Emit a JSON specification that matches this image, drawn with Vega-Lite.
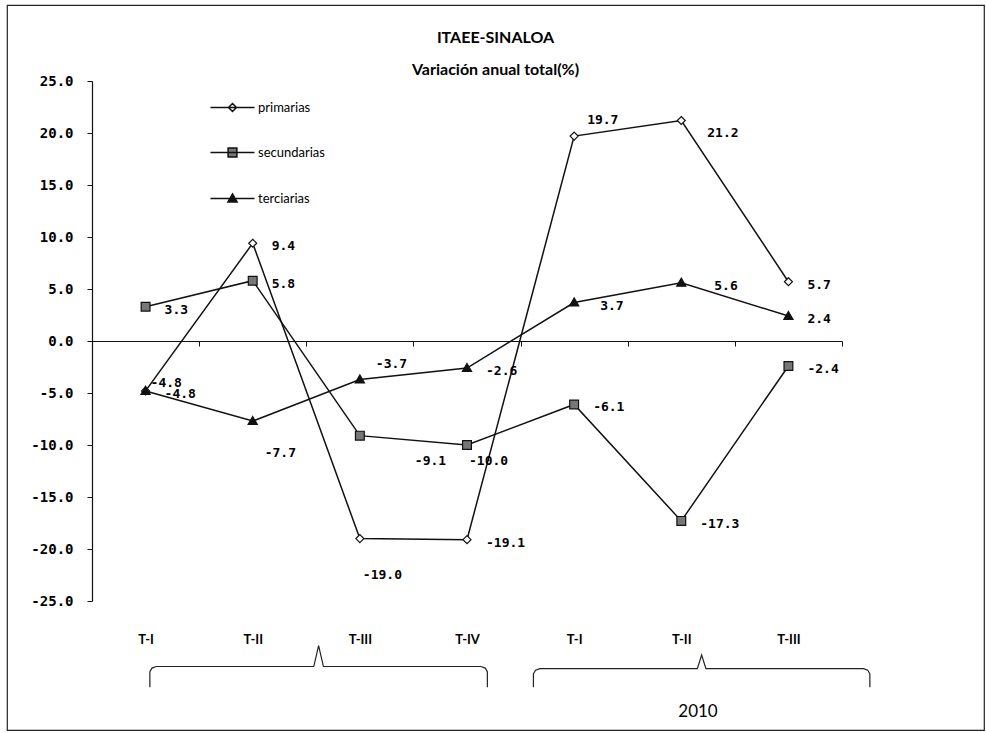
{
  "$schema": "https://vega.github.io/schema/vega-lite/v6.json",
  "width": 977,
  "height": 725,
  "autosize": {"type": "none"},
  "padding": {"left": 7, "top": 5, "right": 2, "bottom": 3},
  "background": "white",
  "config": {"view": {"stroke": "#222", "strokeWidth": 1.2}, "font": "Lato"},
  "title": {
    "text": "ITAEE-SINALOA",
    "subtitle": "Variación anual total(%)",
    "anchor": "middle",
    "frame": "group",
    "offset": -73,
    "font": "Lato",
    "fontSize": 16,
    "fontWeight": "bold",
    "color": "black",
    "subtitleFont": "Lato",
    "subtitleFontSize": 16,
    "subtitleFontWeight": "bold",
    "subtitleColor": "black",
    "subtitlePadding": 16
  },
  "datasets": {
    "series": [
      {"q": "2009 T-I", "s": "primarias", "v": -4.8},
      {"q": "2009 T-II", "s": "primarias", "v": 9.4},
      {"q": "2009 T-III", "s": "primarias", "v": -19.0},
      {"q": "2009 T-IV", "s": "primarias", "v": -19.1},
      {"q": "2010 T-I", "s": "primarias", "v": 19.7},
      {"q": "2010 T-II", "s": "primarias", "v": 21.2},
      {"q": "2010 T-III", "s": "primarias", "v": 5.7},
      {"q": "2009 T-I", "s": "secundarias", "v": 3.3},
      {"q": "2009 T-II", "s": "secundarias", "v": 5.8},
      {"q": "2009 T-III", "s": "secundarias", "v": -9.1},
      {"q": "2009 T-IV", "s": "secundarias", "v": -10.0},
      {"q": "2010 T-I", "s": "secundarias", "v": -6.1},
      {"q": "2010 T-II", "s": "secundarias", "v": -17.3},
      {"q": "2010 T-III", "s": "secundarias", "v": -2.4},
      {"q": "2009 T-I", "s": "terciarias", "v": -4.8},
      {"q": "2009 T-II", "s": "terciarias", "v": -7.7},
      {"q": "2009 T-III", "s": "terciarias", "v": -3.7},
      {"q": "2009 T-IV", "s": "terciarias", "v": -2.6},
      {"q": "2010 T-I", "s": "terciarias", "v": 3.7},
      {"q": "2010 T-II", "s": "terciarias", "v": 5.6},
      {"q": "2010 T-III", "s": "terciarias", "v": 2.4}
    ],
    "brackets": [
      {"b": 1, "k": 1, "u": 0.54, "y": -33.3},
      {"b": 1, "k": 2, "u": 0.54, "y": -31.8},
      {"b": 1, "k": 3, "u": 0.56, "y": -31.45},
      {"b": 1, "k": 4, "u": 0.6, "y": -31.3},
      {"b": 1, "k": 5, "u": 2.07, "y": -31.3},
      {"b": 1, "k": 6, "u": 2.115, "y": -29.3},
      {"b": 1, "k": 7, "u": 2.16, "y": -31.3},
      {"b": 1, "k": 8, "u": 3.63, "y": -31.3},
      {"b": 1, "k": 9, "u": 3.67, "y": -31.45},
      {"b": 1, "k": 10, "u": 3.69, "y": -31.8},
      {"b": 1, "k": 11, "u": 3.69, "y": -33.3},
      {"b": 2, "k": 1, "u": 4.12, "y": -33.3},
      {"b": 2, "k": 2, "u": 4.12, "y": -32.0},
      {"b": 2, "k": 3, "u": 4.14, "y": -31.65},
      {"b": 2, "k": 4, "u": 4.18, "y": -31.5},
      {"b": 2, "k": 5, "u": 5.65, "y": -31.5},
      {"b": 2, "k": 6, "u": 5.69, "y": -30.2},
      {"b": 2, "k": 7, "u": 5.73, "y": -31.5},
      {"b": 2, "k": 8, "u": 7.2, "y": -31.5},
      {"b": 2, "k": 9, "u": 7.24, "y": -31.65},
      {"b": 2, "k": 10, "u": 7.26, "y": -32.0},
      {"b": 2, "k": 11, "u": 7.26, "y": -33.3}
    ],
    "years": [{"u": 5.656, "y": -35.7, "t": "2010"}]
  },
  "layer": [
    {
      "data": {"name": "series"},
      "transform": [
        {"calculate": "datum.s + '|' + datum.q", "as": "key"},
        {"calculate": "replace(format(datum.v, '.1f'), '\u2212', '-')", "as": "lbl"}
      ],
      "encoding": {
        "x": {
          "field": "q",
          "type": "nominal",
          "scale": {
            "type": "band",
            "domain": ["2009 T-I", "2009 T-II", "2009 T-III", "2009 T-IV", "2010 T-I", "2010 T-II", "2010 T-III"],
            "range": [85, 835],
            "paddingInner": 0,
            "paddingOuter": 0
          },
          "axis": {
            "orient": "bottom",
            "offset": -389,
            "title": null,
            "domain": true,
            "domainColor": "#111",
            "domainWidth": 1.2,
            "ticks": true,
            "tickBand": "extent",
            "tickSize": 5,
            "tickColor": "#111",
            "labelExpr": "split(datum.label, ' ')[1]",
            "labelFont": "Lato",
            "labelFontSize": 13,
            "labelFontWeight": "bold",
            "labelColor": "black",
            "labelPadding": 287,
            "labelAngle": 0,
            "grid": false
          }
        },
        "y": {
          "field": "v",
          "type": "quantitative",
          "scale": {"domain": [-25, 25], "range": [596, 76], "nice": false, "zero": false},
          "axis": {
            "orient": "left",
            "offset": -85,
            "title": null,
            "values": [-25, -20, -15, -10, -5, 0, 5, 10, 15, 20, 25],
            "format": ".1f",
            "labelExpr": "replace(datum.label, '\u2212', '-')",
            "domainColor": "#111",
            "domainWidth": 1.2,
            "tickColor": "#111",
            "tickSize": 5,
            "labelFont": "DejaVu Sans Mono",
            "labelFontSize": 14,
            "labelFontWeight": "bold",
            "labelColor": "black",
            "labelPadding": 14,
            "grid": false
          }
        }
      },
      "layer": [
        {
          "mark": {"type": "line", "color": "#111", "strokeWidth": 1.5},
          "encoding": {"detail": {"field": "s", "type": "nominal"}}
        },
        {
          "mark": {"type": "point", "filled": true, "stroke": "#111", "strokeWidth": 1.2, "size": 64, "opacity": 1},
          "encoding": {
            "shape": {
              "field": "s",
              "type": "nominal",
              "scale": {
                "domain": ["primarias", "secundarias", "terciarias"],
                "range": ["M0,-1L1,0L0,1L-1,0Z", "M-1.1,-1.1H1.1V1.1H-1.1Z", "M0,-1.15L1.15,0.85H-1.15Z"]
              },
              "legend": null
            },
            "fill": {
              "field": "s",
              "type": "nominal",
              "scale": {"domain": ["primarias", "secundarias", "terciarias"], "range": ["white", "#777777", "#111"]},
              "legend": null
            }
          }
        },
        {
          "transform": [{"filter": "false"}],
          "mark": {"type": "point", "filled": true, "stroke": "#111", "strokeWidth": 1.2, "size": 64, "opacity": 1},
          "encoding": {
            "shape": {
              "field": "s",
              "type": "nominal",
              "scale": {
                "domain": ["primarias", "secundarias", "terciarias"],
                "range": ["M-5.5,0H5.5M0,-1L1,0L0,1L-1,0Z", "M-5.5,0H5.5M-1.1,-1.1H1.1V1.1H-1.1Z", "M-5.5,0H5.5M0,-1.15L1.15,0.85H-1.15Z"]
              },
              "legend": {
                "orient": "none",
                "legendX": 219,
                "legendY": 96,
                "title": null,
                "symbolSize": 64,
                "labelFont": "Lato",
                "labelFontSize": 13,
                "labelColor": "black",
                "labelOffset": 19,
                "rowPadding": 30,
                "padding": 0,
                "encode": {
                  "symbols": {
                    "stroke": {"value": "#111"},
                    "strokeWidth": {"value": 1.2}
                  }
                }
              }
            },
            "fill": {
              "field": "s",
              "type": "nominal",
              "scale": {"domain": ["primarias", "secundarias", "terciarias"], "range": ["white", "#777777", "#111"]},
              "legend": {
                "orient": "none",
                "legendX": 219,
                "legendY": 96,
                "title": null,
                "symbolSize": 64,
                "labelFont": "Lato",
                "labelFontSize": 13,
                "labelColor": "black",
                "labelOffset": 19,
                "rowPadding": 30,
                "padding": 0,
                "encode": {
                  "symbols": {
                    "stroke": {"value": "#111"},
                    "strokeWidth": {"value": 1.2}
                  }
                }
              }
            }
          }
        },
        {
          "transform": [{"filter": "indexof(['primarias|2009 T-I','terciarias|2009 T-II','primarias|2009 T-III','secundarias|2009 T-III','terciarias|2009 T-III','secundarias|2009 T-IV','primarias|2010 T-I','primarias|2010 T-II','terciarias|2010 T-I','terciarias|2010 T-II'], datum.key) < 0"}],
          "mark": {"type": "text", "align": "left", "baseline": "middle", "dx": 19, "dy": 3, "font": "DejaVu Sans Mono", "fontSize": 13, "fontWeight": "bold", "color": "black"},
          "encoding": {"text": {"field": "lbl", "type": "nominal"}}
        },
        {
          "transform": [{"filter": "datum.key == 'primarias|2009 T-I'"}],
          "mark": {"type": "text", "align": "left", "baseline": "middle", "dx": 5, "dy": -8, "font": "DejaVu Sans Mono", "fontSize": 13, "fontWeight": "bold", "color": "black"},
          "encoding": {"text": {"field": "lbl", "type": "nominal"}}
        },
        {
          "transform": [{"filter": "datum.key == 'terciarias|2009 T-II'"}],
          "mark": {"type": "text", "align": "left", "baseline": "middle", "dx": 12, "dy": 32, "font": "DejaVu Sans Mono", "fontSize": 13, "fontWeight": "bold", "color": "black"},
          "encoding": {"text": {"field": "lbl", "type": "nominal"}}
        },
        {
          "transform": [{"filter": "datum.key == 'primarias|2009 T-III'"}],
          "mark": {"type": "text", "align": "left", "baseline": "middle", "dx": 3, "dy": 36, "font": "DejaVu Sans Mono", "fontSize": 13, "fontWeight": "bold", "color": "black"},
          "encoding": {"text": {"field": "lbl", "type": "nominal"}}
        },
        {
          "transform": [{"filter": "datum.key == 'secundarias|2009 T-III'"}],
          "mark": {"type": "text", "align": "left", "baseline": "middle", "dx": 55, "dy": 25, "font": "DejaVu Sans Mono", "fontSize": 13, "fontWeight": "bold", "color": "black"},
          "encoding": {"text": {"field": "lbl", "type": "nominal"}}
        },
        {
          "transform": [{"filter": "datum.key == 'terciarias|2009 T-III'"}],
          "mark": {"type": "text", "align": "left", "baseline": "middle", "dx": 16, "dy": -15, "font": "DejaVu Sans Mono", "fontSize": 13, "fontWeight": "bold", "color": "black"},
          "encoding": {"text": {"field": "lbl", "type": "nominal"}}
        },
        {
          "transform": [{"filter": "datum.key == 'secundarias|2009 T-IV'"}],
          "mark": {"type": "text", "align": "left", "baseline": "middle", "dx": 2, "dy": 16, "font": "DejaVu Sans Mono", "fontSize": 13, "fontWeight": "bold", "color": "black"},
          "encoding": {"text": {"field": "lbl", "type": "nominal"}}
        },
        {
          "transform": [{"filter": "datum.key == 'primarias|2010 T-I'"}],
          "mark": {"type": "text", "align": "left", "baseline": "middle", "dx": 13, "dy": -16, "font": "DejaVu Sans Mono", "fontSize": 13, "fontWeight": "bold", "color": "black"},
          "encoding": {"text": {"field": "lbl", "type": "nominal"}}
        },
        {
          "transform": [{"filter": "datum.key == 'primarias|2010 T-II'"}],
          "mark": {"type": "text", "align": "left", "baseline": "middle", "dx": 26, "dy": 12, "font": "DejaVu Sans Mono", "fontSize": 13, "fontWeight": "bold", "color": "black"},
          "encoding": {"text": {"field": "lbl", "type": "nominal"}}
        },
        {
          "transform": [{"filter": "datum.key == 'terciarias|2010 T-I'"}],
          "mark": {"type": "text", "align": "left", "baseline": "middle", "dx": 26, "dy": 3, "font": "DejaVu Sans Mono", "fontSize": 13, "fontWeight": "bold", "color": "black"},
          "encoding": {"text": {"field": "lbl", "type": "nominal"}}
        },
        {
          "transform": [{"filter": "datum.key == 'terciarias|2010 T-II'"}],
          "mark": {"type": "text", "align": "left", "baseline": "middle", "dx": 33, "dy": 3, "font": "DejaVu Sans Mono", "fontSize": 13, "fontWeight": "bold", "color": "black"},
          "encoding": {"text": {"field": "lbl", "type": "nominal"}}
        }
      ],
      "resolve": {"scale": {"shape": "independent", "fill": "independent"}}
    },
    {
      "data": {"name": "brackets"},
      "mark": {"type": "line", "color": "#222", "strokeWidth": 1.2},
      "encoding": {
        "x": {"field": "u", "type": "quantitative", "scale": {"domain": [0, 7], "range": [85, 835], "nice": false, "zero": false}, "axis": null},
        "y": {"field": "y", "type": "quantitative", "scale": {"domain": [-25, 25], "range": [596, 76], "nice": false, "zero": false}},
        "detail": {"field": "b", "type": "nominal"},
        "order": {"field": "k", "type": "quantitative"}
      }
    },
    {
      "data": {"name": "years"},
      "mark": {"type": "text", "align": "center", "baseline": "middle", "font": "Lato", "fontSize": 17, "color": "black"},
      "encoding": {
        "x": {"field": "u", "type": "quantitative", "scale": {"domain": [0, 7], "range": [85, 835], "nice": false, "zero": false}, "axis": null},
        "y": {"field": "y", "type": "quantitative", "scale": {"domain": [-25, 25], "range": [596, 76], "nice": false, "zero": false}},
        "text": {"field": "t", "type": "nominal"}
      }
    }
  ],
  "resolve": {"scale": {"x": "independent"}, "axis": {"x": "independent"}}
}
